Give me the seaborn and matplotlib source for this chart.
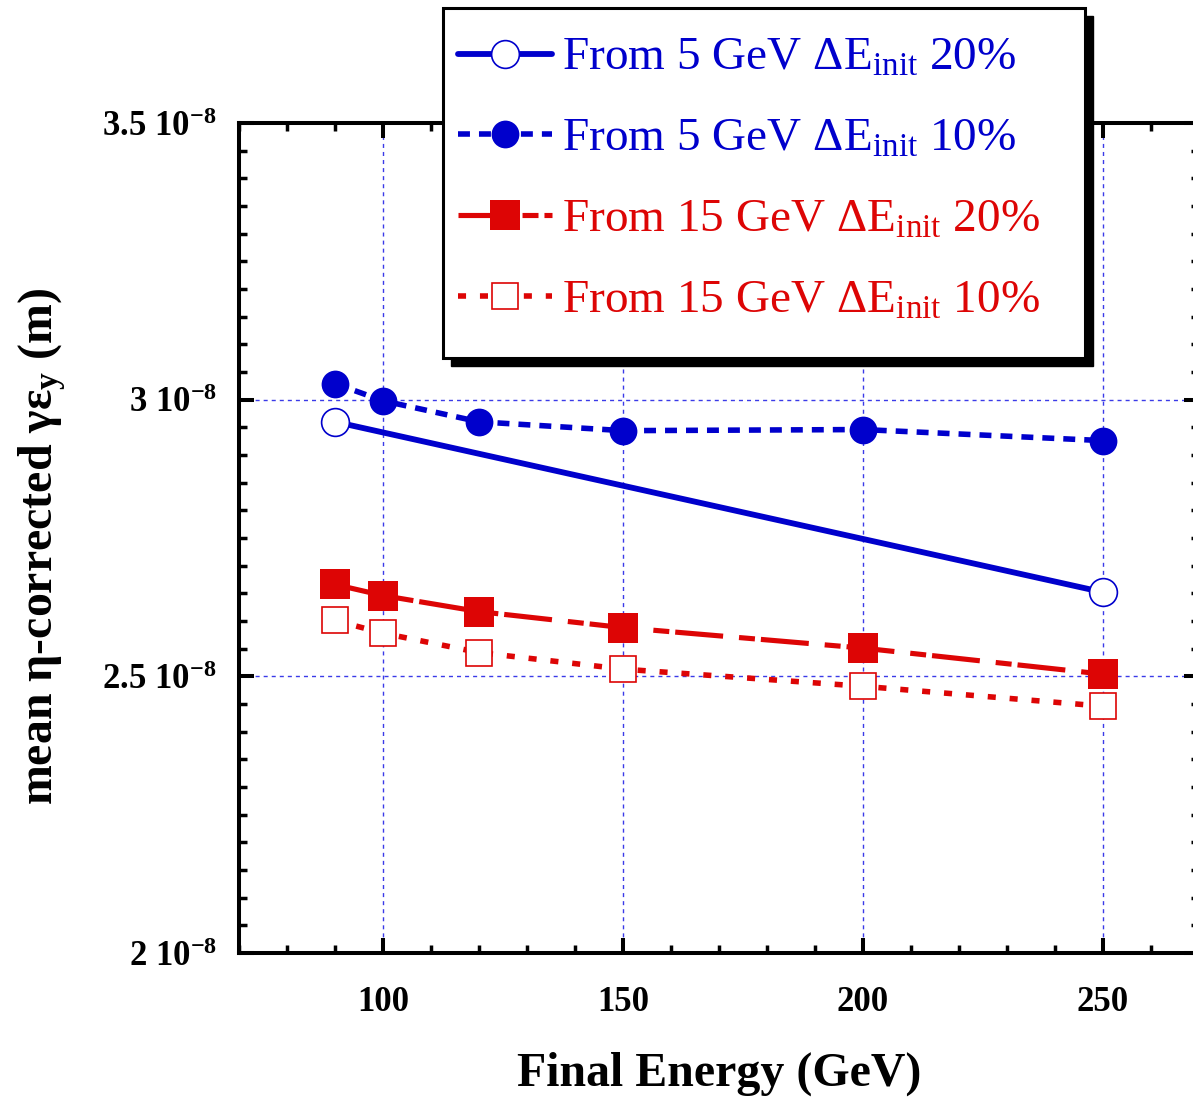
import numpy as np
import pandas as pd
import matplotlib
matplotlib.use('Agg')
import matplotlib.pyplot as plt
import seaborn as sns
from matplotlib.patches import Rectangle
from matplotlib.ticker import MultipleLocator, FuncFormatter

# Datos
energia_5_20 = [90, 250]
emit_5_20 = [2.960e-8, 2.652e-8]

energia = [90, 100, 120, 150, 200, 250]
emit_5_10 = [3.029e-8, 2.998e-8, 2.960e-8, 2.944e-8, 2.946e-8, 2.926e-8]
emit_15_20 = [2.666e-8, 2.646e-8, 2.617e-8, 2.588e-8, 2.551e-8, 2.504e-8]
emit_15_10 = [2.601e-8, 2.578e-8, 2.543e-8, 2.513e-8, 2.482e-8, 2.446e-8]

etiquetas = [r'From 5 GeV ΔE$_{init}$ 20%',
             r'From 5 GeV ΔE$_{init}$ 10%',
             r'From 15 GeV ΔE$_{init}$ 20%',
             r'From 15 GeV ΔE$_{init}$ 10%']

azul = '#0000cc'
rojo = '#dd0505'

sns.set_theme(style='ticks')
plt.rcParams['font.family'] = ['Liberation Serif', 'DejaVu Serif']
plt.rcParams['mathtext.default'] = 'regular'
plt.rcParams['lines.scale_dashes'] = False
for k in ['text.color', 'axes.labelcolor', 'xtick.color', 'ytick.color', 'axes.edgecolor']:
    plt.rcParams[k] = 'black'

W, H = 1193, 1097
fig = plt.figure(figsize=(W / 100, H / 100), dpi=100)
ax = fig.add_axes([239 / W, 1 - 953 / H, 960 / W, 830 / H])

sns.lineplot(x=energia_5_20, y=emit_5_20, ax=ax, color=azul, linewidth=4.2,
             marker='o', markersize=20, markerfacecolor='white',
             markeredgecolor=azul, markeredgewidth=1.2,
             label=etiquetas[0], zorder=3)
sns.lineplot(x=energia, y=emit_5_10, ax=ax, color=azul, linewidth=4,
             linestyle=(0, (8.6, 6.5)),
             marker='o', markersize=20, markerfacecolor=azul,
             markeredgecolor=azul, markeredgewidth=0,
             label=etiquetas[1], zorder=3)
sns.lineplot(x=energia, y=emit_15_20, ax=ax, color=rojo, linewidth=3.7,
             linestyle=(0, (34.6, 11.5, 11.5, 4.3)),
             marker='s', markersize=21, markerfacecolor=rojo,
             markeredgecolor=rojo, markeredgewidth=0,
             label=etiquetas[2], zorder=3)
sns.lineplot(x=energia, y=emit_15_10, ax=ax, color=rojo, linewidth=4,
             linestyle=(0, (5.8, 10)),
             marker='s', markersize=19, markerfacecolor='white',
             markeredgecolor=rojo, markeredgewidth=1.2,
             label=etiquetas[3], zorder=3)

handles, labels = ax.get_legend_handles_labels()
ax.get_legend().remove()

ax.set_xlim(70, 270)
ax.set_ylim(2e-8, 3.5e-8)
ax.xaxis.set_major_locator(MultipleLocator(50))
ax.xaxis.set_minor_locator(MultipleLocator(10))
ax.yaxis.set_major_locator(MultipleLocator(0.5e-8))
ax.yaxis.set_minor_locator(MultipleLocator(0.05e-8))
ax.yaxis.set_major_formatter(FuncFormatter(lambda v, p: f'{v * 1e8:g} 10$^{{-8}}$'))

ax.grid(True, which='major', color='#3a3ae8', linestyle=(0, (2.9, 2.9)), linewidth=1.0)
for s in ax.spines.values():
    s.set_linewidth(2.9)
    s.set_color('black')
ax.tick_params(which='both', direction='in', top=True, right=True, color='black',
               labelcolor='black')
ax.tick_params(which='major', length=11, width=2.9, labelsize=25, pad=16)
ax.tick_params(which='minor', length=5.8, width=2.5)
ax.tick_params(axis='x', which='major', pad=24)
for t in ax.get_xticklabels() + ax.get_yticklabels():
    t.set_fontweight('bold')

ax.set_xlabel('Final Energy (GeV)', fontsize=34.5, fontweight='bold', color='black')
ax.set_ylabel(r'mean η-corrected γε$_y$ (m)', fontsize=34.5, fontweight='bold', color='black')
ax.xaxis.set_label_coords(0.5, -0.119)
ax.yaxis.set_label_coords(-0.178, 0.49)

# marco de la leyenda con sombra
x0, y0, x1, y1 = 443, 8, 1085, 358
fig.patches.append(Rectangle(((x0 + 8) / W, 1 - (y1 + 8) / H), (x1 - x0) / W, (y1 - y0) / H,
                             transform=fig.transFigure, facecolor='black',
                             edgecolor='black', zorder=3))
fig.patches.append(Rectangle((x0 / W, 1 - y1 / H), (x1 - x0) / W, (y1 - y0) / H,
                             transform=fig.transFigure, facecolor='white',
                             edgecolor='black', linewidth=2.2, zorder=4))

leg = fig.legend(handles, labels, loc='upper left',
                 bbox_to_anchor=(458 / W, 1 - 37 / H), frameon=False,
                 prop={'family': 'Liberation Serif', 'size': 34},
                 labelcolor='linecolor', handlelength=2.0, handletextpad=0.2,
                 labelspacing=0.8, borderpad=0, borderaxespad=0)
leg.set_zorder(5)

fig.savefig('out.png', dpi=100)
